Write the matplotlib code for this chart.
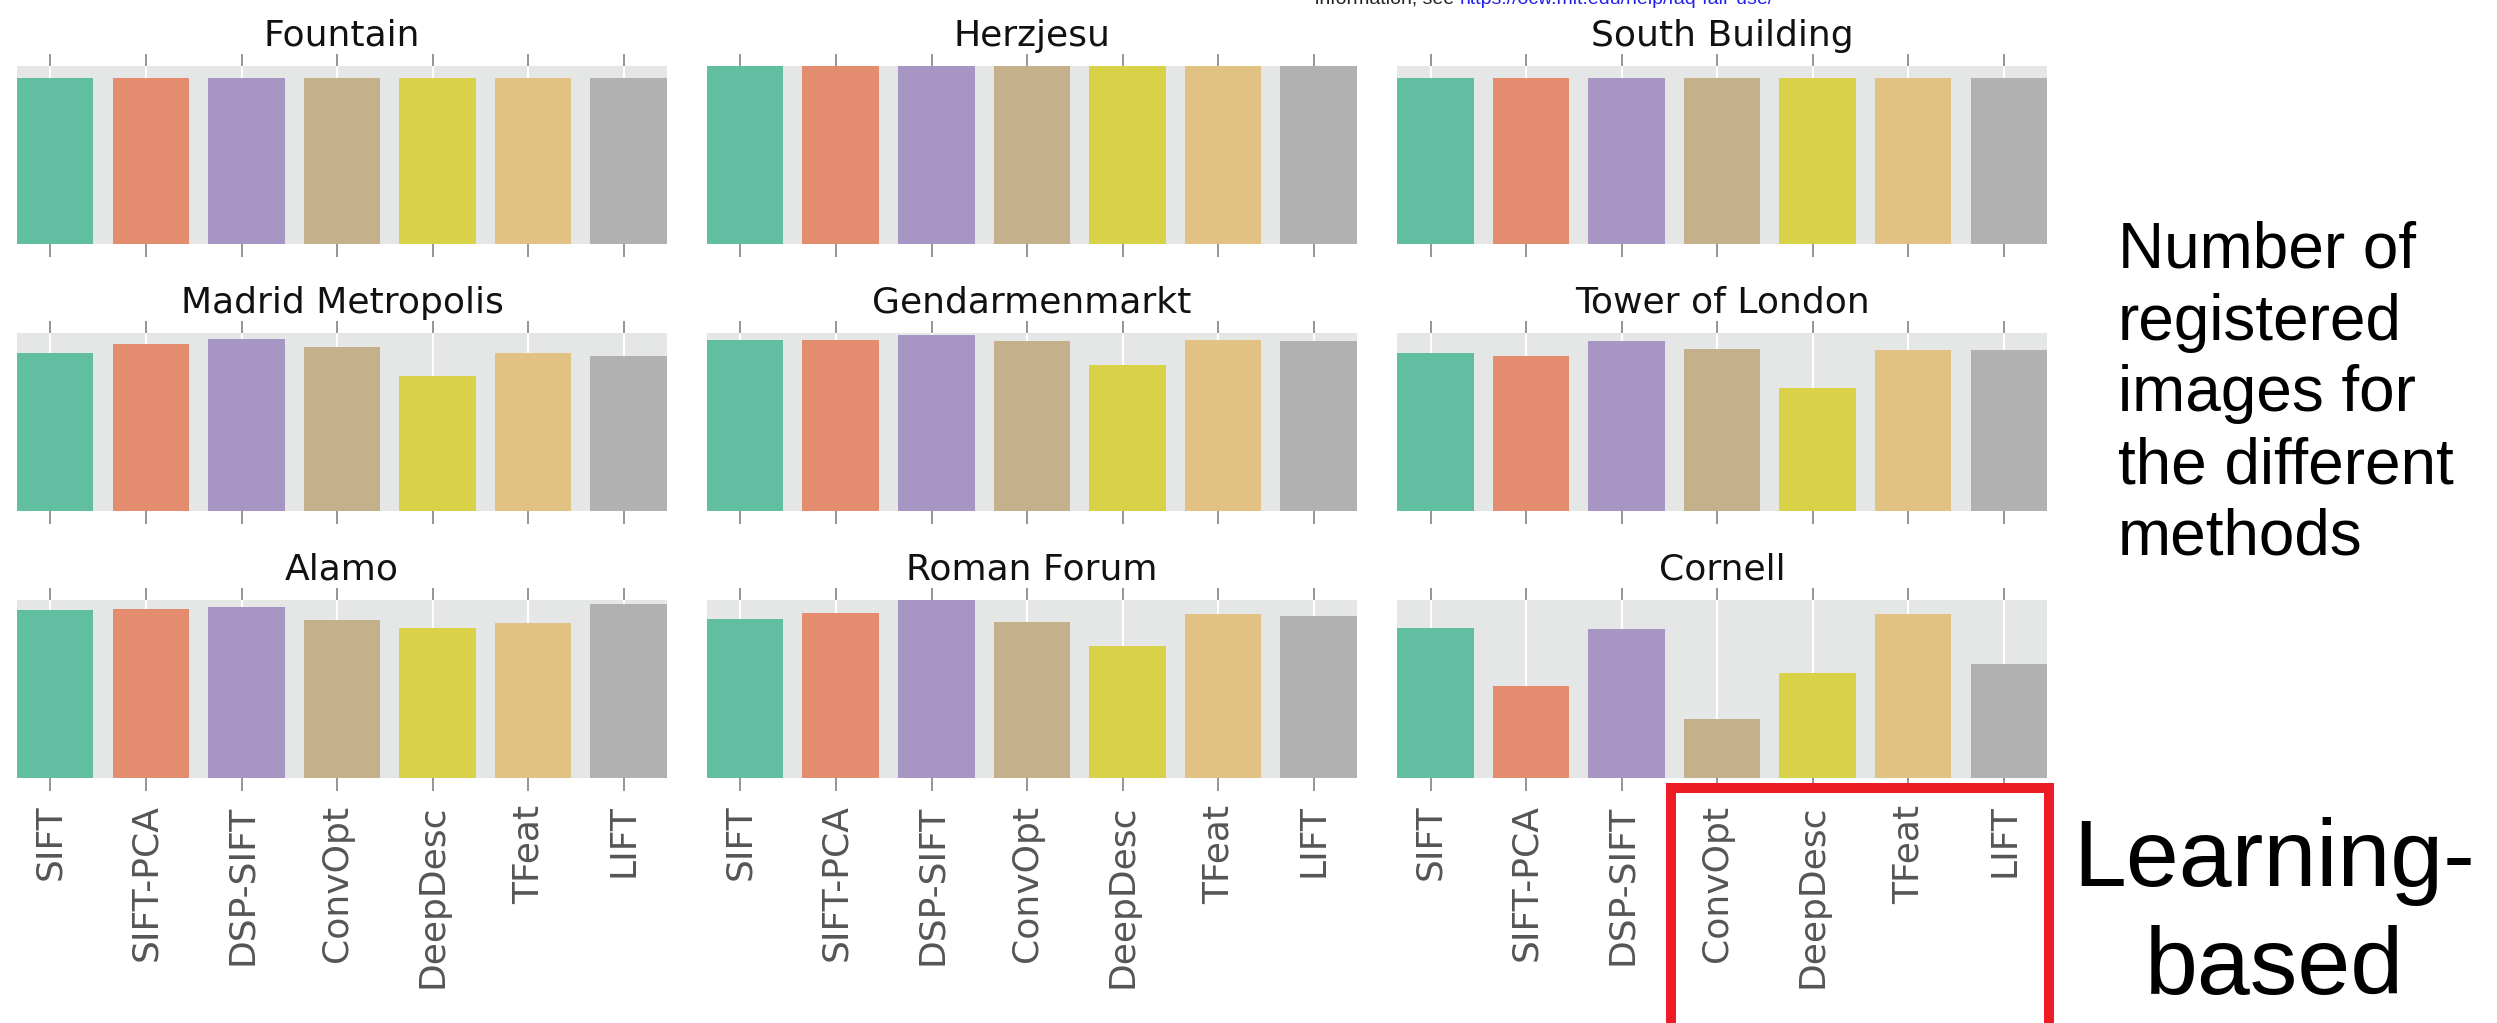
import matplotlib
matplotlib.use("Agg")
import matplotlib.pyplot as plt
from matplotlib.patches import Rectangle
import numpy as np

# relative number of registered images (bar height in % of the panel height)
methods = ["SIFT", "SIFT-PCA", "DSP-SIFT", "ConvOpt", "DeepDesc", "TFeat", "LIFT"]
scenes = ["Fountain", "Herzjesu", "South Building",
          "Madrid Metropolis", "Gendarmenmarkt", "Tower of London",
          "Alamo", "Roman Forum", "Cornell"]

fountain = [93, 93, 93, 93, 93, 93, 93]
herzjesu = [100, 100, 100, 100, 100, 100, 100]
south_building = [93, 93, 93, 93, 93, 93, 93]
madrid_metropolis = [89, 94, 96.4, 92.3, 76, 89, 87.3]
gendarmenmarkt = [96.3, 96.3, 98.7, 95.7, 81.9, 96.3, 95.7]
tower_of_london = [89, 87.3, 95.7, 91.2, 69.3, 90.5, 90.5]
alamo = [94.2, 95, 95.9, 89, 84.5, 86.9, 97.8]
roman_forum = [89.3, 92.7, 100, 87.5, 74.4, 92, 91.2]
cornell = [84.5, 51.4, 83.7, 33.3, 58.9, 92, 64.1]

scene_values = [fountain, herzjesu, south_building,
                madrid_metropolis, gendarmenmarkt, tower_of_london,
                alamo, roman_forum, cornell]

colors = ["#62BEA1", "#E48C70", "#A795C4", "#C4B08A", "#D9D248", "#E2C282", "#B1B1B1"]

fig = plt.figure(figsize=(24.97, 10.23), dpi=100)

col_left = [0.0068, 0.2831, 0.5595]
row_bottom = [0.7615, 0.5005, 0.2395]
w, h = 0.2603, 0.174

x = np.arange(len(methods))
for idx, (name, vals) in enumerate(zip(scenes, scene_values)):
    r, c = divmod(idx, 3)
    ax = fig.add_axes([col_left[c], row_bottom[r], w, h])
    ax.set_facecolor("#E5E6E6")
    ax.set_axisbelow(True)
    ax.bar(x + 0.05, vals, width=0.8, color=colors)
    ax.set_xlim(-0.35, 6.45)
    ax.set_ylim(0, 100)
    ax.set_yticks([])
    ax.set_xticks(x)
    ax.set_xticklabels(methods, rotation=90)
    ax.grid(axis="x", color="white", linewidth=1.5)
    for s in ax.spines.values():
        s.set_visible(False)
    ax.tick_params(axis="x", top=True, bottom=True, direction="out", length=9,
                   width=1.3, color="#8C8C8C", labelsize=26, labelcolor="#555555",
                   pad=10, labelbottom=(r == 2))
    ax.text(0.5, 1.115, name, transform=ax.transAxes, ha="center", va="baseline",
            fontsize=26, color="#111111")

fig.text(2118 / 2497, 0.784, "Number of\nregistered\nimages for\nthe different\nmethods",
         ha="left", va="top", fontsize=46, family="Liberation Sans", linespacing=1.25)
fig.text(0.9107, 1 - 817 / 1023, "Learning-\nbased", ha="center", va="top",
         multialignment="center", fontsize=68.5, family="Liberation Sans", linespacing=1.27)

fig.patches.append(Rectangle((0.6692, -0.05), 0.1514, 0.2797, transform=fig.transFigure,
                             fill=False, edgecolor="#EE1C24", linewidth=7.2, zorder=10))

t1 = fig.text(1315 / 2497, 1 - 3.5 / 1023, "information, see ", fontsize=14,
              family="Liberation Sans", va="baseline", color="#222222")
fig.canvas.draw()
bb = t1.get_window_extent()
fig.text(bb.x1 / fig.bbox.width, 1 - 3.5 / 1023, "https://ocw.mit.edu/help/faq-fair-use/",
         fontsize=14, family="Liberation Sans", va="baseline", color="#2222EE")

fig.savefig("out.png", dpi=100)
